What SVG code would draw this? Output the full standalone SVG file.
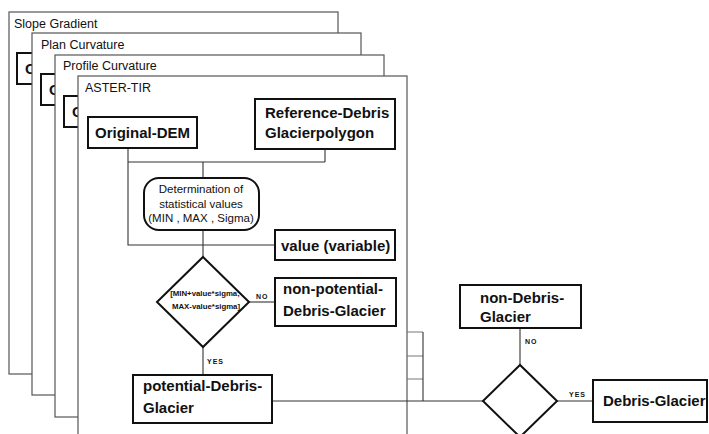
<svg xmlns="http://www.w3.org/2000/svg" width="709" height="434" viewBox="0 0 709 434">
<style>
.frame{fill:#fff;stroke:#555;stroke-width:1.2}
.flbl{font-family:"Liberation Sans",Arial,sans-serif;font-size:12.5px;fill:#111}
.box{fill:#fff;stroke:#111;stroke-width:2}
.t{font-family:"Liberation Sans",Arial,sans-serif;font-size:15px;font-weight:bold;fill:#111}
.s{font-family:"Liberation Sans",Arial,sans-serif;font-size:11.5px;fill:#111}
.d{font-family:"Liberation Sans",Arial,sans-serif;font-size:7.8px;font-weight:bold;fill:#111}
.lab{font-family:"Liberation Sans",Arial,sans-serif;font-size:7px;font-weight:bold;fill:#111;letter-spacing:1px}
.c{fill:none;stroke:#333;stroke-width:1.1}
.cl{fill:none;stroke:#777;stroke-width:1}
</style>
<rect width="709" height="434" fill="#fff"/>
<g id="panel-slope">
<rect class="frame" x="9" y="12" width="329" height="362"/>
<text class="flbl" x="14" y="28">Slope Gradient</text>
<rect class="box" x="17" y="53" width="109" height="31"/>
<text class="t" x="25" y="74">O</text>
</g>
<g id="panel-plan">
<rect class="frame" x="32" y="33" width="329" height="362"/>
<text class="flbl" x="41" y="49">Plan Curvature</text>
<rect class="box" x="41" y="74" width="109" height="31"/>
<text class="t" x="49" y="95">O</text>
</g>
<g id="panel-profile">
<rect class="frame" x="55" y="55" width="329" height="362"/>
<text class="flbl" x="63" y="70">Profile Curvature</text>
<rect class="box" x="64" y="96" width="109" height="31"/>
<text class="t" x="72" y="117">O</text>
</g>
<g id="panel-aster">
<rect class="frame" x="78" y="76" width="329" height="370"/>
<text class="flbl" x="85" y="92">ASTER-TIR</text>
</g>
<g id="connectors">
<path class="c" d="M128 148V245H275"/>
<path class="c" d="M128 162H325M325 149V162M203 162V178"/>
<path class="c" d="M203 230V257"/>
<path class="c" d="M249 302H275"/>
<path class="c" d="M203 347V375"/>
<path class="c" d="M272 401H483"/>
<path class="c" d="M520 328V365"/>
<path class="c" d="M557 401H593"/>
<path class="cl" d="M407 332H423M407 356H423M407 379H423"/>
<path class="c" d="M423 332V401" stroke-width="1.6"/>
<text class="lab" x="256" y="299">NO</text>
<text class="lab" x="207" y="364">YES</text>
<text class="lab" x="525" y="344">NO</text>
<text class="lab" x="569" y="397">YES</text>
</g>
<g id="original-dem">
<rect class="box" x="88" y="117" width="109" height="31"/>
<text class="t" x="142.5" y="138" text-anchor="middle">Original-DEM</text>
</g>
<g id="reference-debris">
<rect class="box" x="255" y="99" width="140" height="50"/>
<text class="t" x="265" y="118">Reference-Debris</text>
<text class="t" x="265" y="138">Glacierpolygon</text>
</g>
<g id="determination">
<rect class="box" x="144" y="178" width="115" height="52" rx="15"/>
<text class="s" x="201" y="193" text-anchor="middle">Determination of</text>
<text class="s" x="201" y="208" text-anchor="middle">statistical values</text>
<text class="s" x="201" y="222" text-anchor="middle">(MIN , MAX , Sigma)</text>
</g>
<g id="value-variable">
<rect class="box" x="275" y="230" width="120" height="30"/>
<text class="t" x="281" y="251">value (variable)</text>
</g>
<g id="decision-1">
<polygon class="box" points="203,257 249,302 203,347 157,302"/>
<text class="d" x="205" y="296" text-anchor="middle">[MIN+value*sigma;</text>
<text class="d" x="206" y="309" text-anchor="middle">MAX-value*sigma]</text>
</g>
<g id="non-potential">
<rect class="box" x="275" y="278" width="121" height="48"/>
<text class="t" x="283" y="294">non-potential-</text>
<text class="t" x="283" y="316">Debris-Glacier</text>
</g>
<g id="potential">
<rect class="box" x="133" y="375" width="139" height="48"/>
<text class="t" x="143" y="391">potential-Debris-</text>
<text class="t" x="143" y="413">Glacier</text>
</g>
<g id="decision-2">
<polygon class="box" points="483,401 520,365 557,401 520,437" stroke-width="1.4"/>
</g>
<g id="non-debris">
<rect class="box" x="460" y="285" width="121" height="43"/>
<text class="t" x="480" y="303">non-Debris-</text>
<text class="t" x="480" y="322">Glacier</text>
</g>
<g id="debris-glacier">
<rect class="box" x="593" y="380" width="114" height="42"/>
<text class="t" x="603" y="406">Debris-Glacier</text>
</g>
</svg>
